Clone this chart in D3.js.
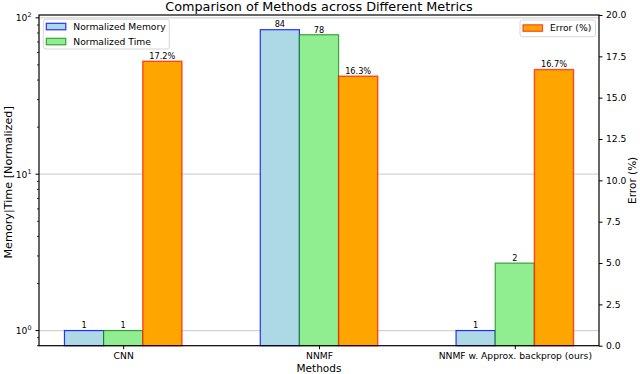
<!DOCTYPE html>
<html>
<head>
<meta charset="utf-8">
<script src="https://cdn.jsdelivr.net/npm/d3@7"></script>
<style>
  body { margin: 0; background: #fff; }
  text { font-family: 'DejaVu Sans', sans-serif; fill: #000; }
</style>
</head>
<body>
<div id="vis"></div>
<script>
// data
const methods = ['CNN', 'NNMF', 'NNMF w. Approx. backprop (ours)'];
const memory = [1, 84, 1];
const time = [1, 78, 2.7];
const errors = [17.2, 16.3, 16.7];
const errTicks = [0, 2.5, 5, 7.5, 10, 12.5, 15, 17.5, 20];

const W = 640, H = 374;
const margin = { top: 15, right: 41, bottom: 28.3, left: 39 };
const width = W - margin.left - margin.right;
const height = H - margin.top - margin.bottom;
const barW = 0.2;

const $svg = d3.select('#vis').append('svg')
  .attr('width', W).attr('height', H);
const $plot = $svg.append('g')
  .attr('transform', `translate(${margin.left}, ${margin.top})`);

// scales
const x = d3.scaleLinear().domain([-0.43, 2.43]).range([0, width]);
const y = d3.scaleLog().domain([0.8, 104.3]).range([height, 0]);
const yErr = d3.scaleLinear().domain([0, 20]).range([height, 0]);

// grid on the log axis (major decades only)
const decades = [1, 10, 100];
$plot.append('g').selectAll('line')
  .data(decades).enter().append('line')
  .attr('x1', 0).attr('x2', width)
  .attr('y1', d => y(d)).attr('y2', d => y(d))
  .attr('stroke', '#d3d3d3').attr('stroke-width', 1.3);

const series = [
  { name: 'Normalized Memory', values: memory, off: -barW, fill: '#add8e6', stroke: '#0000ff', so: 0.8 },
  { name: 'Normalized Time', values: time, off: 0, fill: '#90ee90', stroke: '#008000', so: 0.7 }
];

series.forEach(s => {
  const g = $plot.append('g');
  g.selectAll('rect')
    .data(s.values).enter().append('rect')
    .attr('x', (d, i) => x(i + s.off - barW / 2))
    .attr('width', x(barW) - x(0))
    .attr('y', d => y(d))
    .attr('height', d => height - y(d))
    .attr('fill', s.fill)
    .attr('stroke', s.stroke)
    .attr('stroke-opacity', s.so)
    .attr('stroke-width', 1.2);
  g.selectAll('text')
    .data(s.values).enter().append('text')
    .attr('x', (d, i) => x(i + s.off))
    .attr('y', d => y(d) - 2.2)
    .attr('text-anchor', 'middle')
    .attr('font-size', '8.2px')
    .text(d => Math.floor(d));
});

// error bars on the twin axis
const gErr = $plot.append('g');
gErr.selectAll('rect')
  .data(errors).enter().append('rect')
  .attr('x', (d, i) => x(i + barW - barW / 2))
  .attr('width', x(barW) - x(0))
  .attr('y', d => yErr(d))
  .attr('height', d => height - yErr(d))
  .attr('fill', '#ffa500')
  .attr('stroke', '#ff0000')
  .attr('stroke-opacity', 0.65)
  .attr('stroke-width', 1.4);
gErr.selectAll('text')
  .data(errors).enter().append('text')
  .attr('x', (d, i) => x(i + barW))
  .attr('y', d => yErr(d) - 2.2)
  .attr('text-anchor', 'middle')
  .attr('font-size', '8.2px')
  .text(d => d.toFixed(1) + '%');

// frame
$plot.append('rect')
  .attr('width', width).attr('height', height)
  .attr('fill', 'none').attr('stroke', '#000').attr('stroke-width', 1.2);

// x axis
const xAxis = d3.axisBottom(x)
  .tickValues(d3.range(methods.length))
  .tickFormat(i => methods[i])
  .tickSize(3.5).tickPadding(3.5);
$plot.append('g')
  .attr('transform', `translate(0, ${height})`)
  .call(xAxis)
  .call(g => g.select('.domain').remove())
  .call(g => g.selectAll('text').attr('font-size', '9.2px').attr('font-family', 'DejaVu Sans'));

// left log axis: minor ticks
const minors = [];
[0.1, 1, 10].forEach(b => d3.range(2, 10).forEach(k => {
  const v = b * k;
  if (v >= 0.8 && v <= 104.3 && !decades.includes(v)) minors.push(v);
}));
$plot.append('g').selectAll('line')
  .data(minors).enter().append('line')
  .attr('x1', -2).attr('x2', 0)
  .attr('y1', d => y(d)).attr('y2', d => y(d))
  .attr('stroke', '#000').attr('stroke-width', 0.8);

const gY = $plot.append('g');
gY.selectAll('line')
  .data(decades).enter().append('line')
  .attr('x1', -3.5).attr('x2', 0)
  .attr('y1', d => y(d)).attr('y2', d => y(d))
  .attr('stroke', '#000').attr('stroke-width', 1);
const yLab = gY.selectAll('text')
  .data(decades).enter().append('text')
  .attr('x', -7.5)
  .attr('y', d => y(d) + 3.3)
  .attr('text-anchor', 'end')
  .attr('font-size', '9.2px');
yLab.append('tspan').text('10');
yLab.append('tspan')
  .attr('font-size', '6.4px').attr('dy', -4)
  .text(d => Math.round(Math.log10(d)));

// right error axis
const yErrAxis = d3.axisRight(yErr)
  .tickValues(errTicks)
  .tickFormat(d3.format('.1f'))
  .tickSize(3.5).tickPadding(3.5);
$plot.append('g')
  .attr('transform', `translate(${width}, 0)`)
  .call(yErrAxis)
  .call(g => g.select('.domain').remove())
  .call(g => g.selectAll('text').attr('font-size', '9.2px').attr('font-family', 'DejaVu Sans'));

// titles
$svg.append('text')
  .attr('x', margin.left + width / 2).attr('y', 10.5)
  .attr('text-anchor', 'middle')
  .attr('font-size', '12.8px')
  .text('Comparison of Methods across Different Metrics');

$svg.append('text')
  .attr('x', margin.left + width / 2).attr('y', 372)
  .attr('text-anchor', 'middle')
  .attr('font-size', '10.5px')
  .text('Methods');

$svg.append('text')
  .attr('transform', `translate(11.5, ${margin.top + height / 2 + 2}) rotate(-90)`)
  .attr('text-anchor', 'middle')
  .attr('font-size', '11.2px')
  .text('Memory|Time [Normalized]');

$svg.append('text')
  .attr('transform', `translate(636, ${margin.top + height / 2}) rotate(-90)`)
  .attr('text-anchor', 'middle')
  .attr('font-size', '10.5px')
  .text('Error (%)');

// legends
function legend(items, bx, by, bw) {
  const g = $svg.append('g').attr('transform', `translate(${bx}, ${by})`);
  g.append('rect')
    .attr('width', bw).attr('height', 13 * items.length + 3.7)
    .attr('rx', 2.5)
    .attr('fill', '#fff').attr('fill-opacity', 0.8)
    .attr('stroke', '#d6d6d6').attr('stroke-width', 1);
  const row = g.selectAll('g.row')
    .data(items).enter().append('g')
    .attr('class', 'row')
    .attr('transform', (d, i) => `translate(0, ${(items.length > 1 ? 7 : 7.8) + i * 15})`);
  row.append('rect')
    .attr('x', 3).attr('y', -3)
    .attr('width', 19.5).attr('height', 6.5)
    .attr('fill', d => d.fill)
    .attr('stroke', d => d.stroke)
    .attr('stroke-opacity', d => d.so)
    .attr('stroke-width', 1.2);
  row.append('text')
    .attr('x', 30).attr('y', 3.3)
    .attr('font-size', '9.2px')
    .text(d => d.name);
}
legend(series, 43.3, 19.3, 126);
legend([{ name: 'Error (%)', fill: '#ffa500', stroke: '#ff0000', so: 0.65 }], 520, 20, 75.5);
</script>
</body>
</html>
